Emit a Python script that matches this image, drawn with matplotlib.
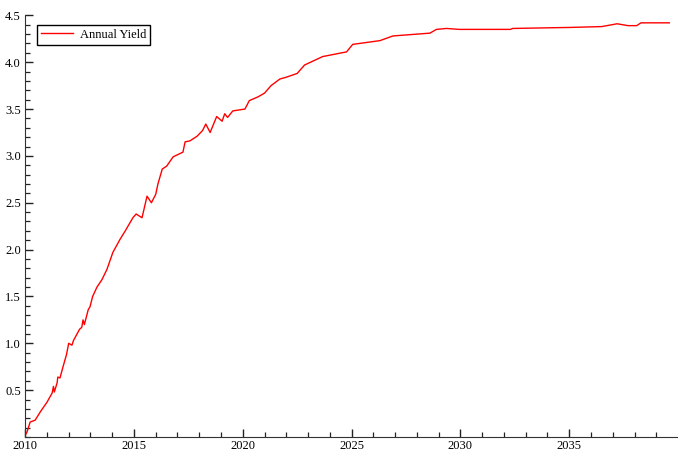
import matplotlib.pyplot as plt
from matplotlib.ticker import MultipleLocator

plt.rcParams['font.family'] = ['Liberation Serif', 'DejaVu Serif']

# decimal year and annual yield (%)
years = [
    2010.00, 2010.08, 2010.23, 2010.46, 2010.70, 2011.00, 2011.24, 2011.30,
    2011.34, 2011.47, 2011.50, 2011.60, 2011.74, 2011.90, 2012.00, 2012.15,
    2012.22, 2012.50, 2012.60, 2012.66, 2012.72, 2012.90, 2012.98, 2013.10,
    2013.30, 2013.53, 2013.76, 2014.03, 2014.36, 2014.60, 2014.95, 2015.10,
    2015.37, 2015.60, 2015.80, 2016.00, 2016.10, 2016.30, 2016.50, 2016.80,
    2017.25, 2017.35, 2017.57, 2017.90, 2018.15, 2018.30, 2018.50, 2018.80,
    2019.05, 2019.17, 2019.30, 2019.54, 2020.10, 2020.30, 2020.70, 2021.00,
    2021.30, 2021.70, 2022.00, 2022.50, 2022.84, 2023.67, 2024.77, 2025.05,
    2026.30, 2026.90, 2028.60, 2028.90, 2029.36, 2029.95, 2032.30, 2032.40,
    2034.80, 2034.90, 2036.50, 2037.20, 2037.70, 2038.10, 2038.30, 2039.60,
]
yields = [
    0.02, 0.05, 0.16, 0.18, 0.27, 0.37, 0.47, 0.54,
    0.48, 0.58, 0.64, 0.63, 0.75, 0.88, 1.00, 0.98,
    1.03, 1.15, 1.17, 1.25, 1.20, 1.36, 1.39, 1.50,
    1.60, 1.68, 1.79, 1.97, 2.11, 2.20, 2.34, 2.38,
    2.34, 2.57, 2.50, 2.59, 2.70, 2.86, 2.89, 2.99,
    3.04, 3.15, 3.16, 3.21, 3.27, 3.34, 3.25, 3.42,
    3.37, 3.45, 3.41, 3.48, 3.50, 3.59, 3.63, 3.67,
    3.75, 3.82, 3.84, 3.88, 3.97, 4.06, 4.11, 4.19,
    4.23, 4.28, 4.31, 4.35, 4.36, 4.35, 4.35, 4.36,
    4.37, 4.37, 4.38, 4.41, 4.39, 4.39, 4.42, 4.42,
]

fig = plt.figure(figsize=(6.8, 4.51), dpi=100)
ax = fig.add_axes([0.037, 0.031, 0.9585, 0.935])

ax.plot(years, yields, color='#ff0000', lw=1.0, label='Annual Yield')

ax.set_xlim(2010, 2039.95)
ax.set_ylim(0, 4.5)

# only the left and bottom axis lines
ax.spines['top'].set_visible(False)
ax.spines['right'].set_visible(False)
ax.spines['left'].set_color('#333333')
ax.spines['bottom'].set_color('#333333')

ax.xaxis.set_major_locator(MultipleLocator(5))
ax.xaxis.set_minor_locator(MultipleLocator(1))
ax.yaxis.set_major_locator(MultipleLocator(0.5))
ax.yaxis.set_minor_locator(MultipleLocator(0.1))
ax.tick_params(which='both', direction='in', labelsize=9, color='#222222')
ax.tick_params(which='major', length=6, width=1.0)
ax.tick_params(which='minor', length=3.5, width=0.9)
ax.tick_params(axis='y', pad=3)
ax.tick_params(axis='x', pad=2)

ax.set_yticks([0.5, 1.0, 1.5, 2.0, 2.5, 3.0, 3.5, 4.0, 4.5])
ax.set_yticklabels(['0.5', '1.0', '1.5', '2.0', '2.5', '3.0', '3.5', '4.0', '4.5'])

leg = ax.legend(loc='upper left', bbox_to_anchor=(37 / 680, 1 - 25 / 451),
                bbox_transform=fig.transFigure, fancybox=False, framealpha=1,
                edgecolor='black', fontsize=9, handlelength=2.6,
                borderpad=0.3, handletextpad=0.5, borderaxespad=0)
leg.get_frame().set_linewidth(1.0)

fig.savefig('out.png', dpi=100)
